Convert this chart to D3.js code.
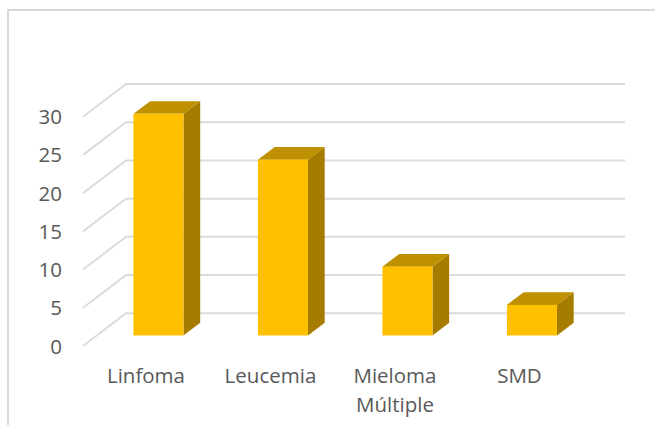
<!DOCTYPE html>
<html>
<head>
<meta charset="utf-8">
<script src="https://cdnjs.cloudflare.com/ajax/libs/d3/7.8.5/d3.min.js"></script>
<style>
    body { margin: 0; background: #fff; }
    text { font-family: "Open Sans", sans-serif; fill: #595959; }
    .axis path, .axis line { display: none; }
</style>
</head>
<body>
<div id="chart"></div>
<script>
// Chart data
const categories = ['Linfoma', 'Leucemia', 'Mieloma Múltiple', 'SMD'];
const values = [29, 23, 9, 4];
const tickValues = [0, 5, 10, 15, 20, 25, 30];

const svgWidth = 655;
const svgHeight = 425;

// 3D offsets, measured from the back wall
const floorDx = 43, floorDy = 32.7;  // back wall -> front edge of the floor
const barDx = 16.7, barDy = 12.7;    // depth of a bar
const barFrontDy = 22.2;             // back wall -> front face of a bar

const svg = d3.select('#chart').append('svg')
    .attr('width', svgWidth)
    .attr('height', svgHeight)
    .style('display', 'block');

// Frame (runs off the right and bottom of the picture)
svg.append('path')
    .attr('d', 'M8,426V10H656')
    .attr('fill', 'none')
    .attr('stroke', '#d9d9d9')
    .attr('stroke-width', 2);

// y is the position on the back wall
const y = d3.scaleLinear().domain([0, 30]).range([313.3, 84]);

const x = d3.scaleBand()
    .domain(categories)
    .range([96.2, 594.2])
    .paddingInner(0.598)
    .paddingOuter(0.299);

// Grid lines: side wall + back wall
svg.append('g')
    .selectAll('path')
    .data(tickValues)
    .enter().append('path')
    .attr('d', d => `M${126 - floorDx},${y(d) + floorDy}L126,${y(d)}H625`)
    .attr('fill', 'none')
    .attr('stroke', '#dcdcdc')
    .attr('stroke-width', 2);

// Y axis labels
svg.append('g')
    .attr('class', 'axis')
    .attr('transform', `translate(70,${floorDy + 0.5})`)
    .call(d3.axisLeft(y).tickValues(tickValues).tickSize(0).tickPadding(8))
    .selectAll('text')
    .style('font-size', '20.5px')
    .attr('dy', '0.32em');

// Bars
const bars = svg.append('g')
    .selectAll('g')
    .data(categories.map((c, i) => ({ name: c, value: values[i] })))
    .enter().append('g');

// side face
bars.append('path')
    .attr('fill', '#a67c00')
    .attr('d', d => {
        const r = x(d.name) + x.bandwidth();
        const top = y(d.value) + barFrontDy, bottom = y(0) + barFrontDy;
        return `M${r},${top}l${barDx},${-barDy}V${bottom - barDy}L${r},${bottom}Z`;
    });

// top face
bars.append('path')
    .attr('fill', '#bf9000')
    .attr('d', d => {
        const l = x(d.name);
        const top = y(d.value) + barFrontDy;
        return `M${l},${top}l${barDx},${-barDy}h${x.bandwidth()}l${-barDx},${barDy}Z`;
    });

// front face
bars.append('rect')
    .attr('fill', '#ffc000')
    .attr('x', d => x(d.name))
    .attr('y', d => y(d.value) + barFrontDy)
    .attr('width', x.bandwidth())
    .attr('height', d => y(0) - y(d.value));

// X axis labels, wrapped on the space
const xAxis = svg.append('g')
    .attr('class', 'axis')
    .attr('transform', 'translate(-12.5,376)')
    .call(d3.axisBottom(x).tickSize(0).tickPadding(0).tickFormat(''));

xAxis.selectAll('.tick text').each(function(d) {
    const label = d3.select(this)
        .style('font-size', '20.5px')
        .attr('y', 0)
        .attr('dy', 0);
    d.split(' ').forEach((word, i) => {
        label.append('tspan')
            .attr('x', 0)
            .attr('y', i * 29 + 6.5)
            .text(word);
    });
});
</script>
</body>
</html>
